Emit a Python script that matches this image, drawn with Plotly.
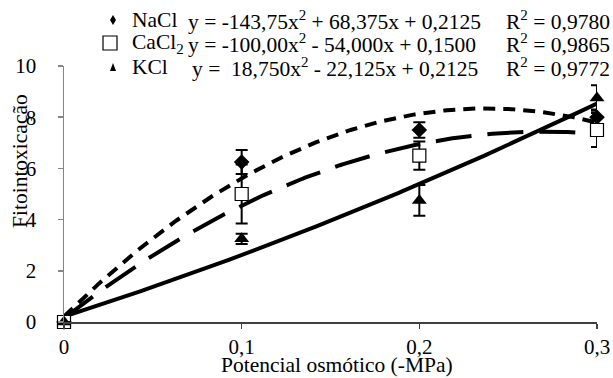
import numpy as np
import plotly.graph_objects as go

# ---- data ----
potencial = [0.0, 0.1, 0.2, 0.3]
x_ticks = [0, 0.1, 0.2, 0.3]
x_ticktext = ["0", "0,1", "0,2", "0,3"]
y_ticks = [0, 2, 4, 6, 8, 10]

nacl = [0.0, 6.25, 7.5, 8.0]
nacl_err = [0.0, 0.47, 0.3, 0.3]
cacl2 = [0.0, 5.0, 6.5, 7.5]
cacl2_err = [0.0, 1.15, 0.55, 0.66]
kcl = [0.0, 3.25, 4.75, 8.75]
kcl_err = [0.0, 0.2, 0.6, 0.5]

names = ["NaCl", "CaCl<sub>2</sub>", "KCl"]
equations = [
    "y = -143,75x<sup>2</sup> + 68,375x + 0,2125",
    "y = -100,00x<sup>2</sup> - 54,000x + 0,1500",
    "y =  18,750x<sup>2</sup> - 22,125x + 0,2125",
]
r2_labels = ["R<sup>2</sup> = 0,9780", "R<sup>2</sup> = 0,9865", "R<sup>2</sup> = 0,9772"]
x_title = "Potencial osmótico (-MPa)"
y_title = "Fitointoxicação"

FONT = "Liberation Serif, Times New Roman, serif"
fig = go.Figure()

xs = np.linspace(min(potencial), max(potencial), 200)
series = [
    (nacl, nacl_err, dict(symbol="diamond", size=12, color="black"), "12px,8px"),
    (cacl2, cacl2_err, dict(symbol="square", size=13, color="white",
                            line=dict(color="black", width=1.2)), "36px,16px"),
    (kcl, kcl_err, dict(symbol="triangle-up", size=13, color="black"), "solid"),
]

# trend lines (quadratic least squares fit of the data)
for vals, err, mk, dash in series:
    coef = np.polyfit(potencial, vals, 2)
    fig.add_trace(go.Scatter(x=xs, y=np.polyval(coef, xs), mode="lines",
                             line=dict(color="black", width=4, dash=dash),
                             showlegend=False, hoverinfo="skip"))

for vals, err, mk, dash in series:
    fig.add_trace(go.Scatter(x=potencial, y=vals, mode="markers", marker=mk,
                             error_y=dict(type="data", array=err, color="black",
                                          thickness=2, width=6),
                             cliponaxis=False, showlegend=False))

# ---- layout helpers ----
W, H = 613, 378
L, R, T, B = 64, 16, 66, 56
pw, ph = W - L - R, H - T - B


def px(x):
    return (x - L) / pw


def py(y):
    return (H - B - y) / ph


def txt(x, y, text, **kw):
    fig.add_annotation(x=px(x), y=py(y), xref="paper", yref="paper", text=text,
                       showarrow=False, yanchor="middle", borderpad=0,
                       font=dict(family=FONT, size=kw.pop("size", 21.5), color="black"), **kw)


rows_y = [20, 43, 67]
eq_x = [187, 187, 191]
for i, yy in enumerate(rows_y):
    txt(131, yy, names[i], xanchor="left")
    txt(eq_x[i], yy, equations[i], xanchor="left")
    txt(505, yy, r2_labels[i], xanchor="left")

# axis titles
txt(337, 365, x_title, xanchor="center", size=21.5)
txt(20, 161, y_title, xanchor="center", size=21.5, textangle=-90)

# legend keys
fig.add_shape(type="path", xref="paper", yref="paper", xsizemode="pixel", ysizemode="pixel",
              xanchor=px(113), yanchor=py(rows_y[0]),
              path="M 0,5 L 3,0 L 0,-5 L -3,0 Z", fillcolor="black", line=dict(width=0))
fig.add_shape(type="rect", xref="paper", yref="paper", xsizemode="pixel", ysizemode="pixel",
              xanchor=px(110), yanchor=py(rows_y[1]), x0=-7, x1=7, y0=-7, y1=7,
              fillcolor="white", line=dict(color="black", width=1.2))
fig.add_shape(type="path", xref="paper", yref="paper", xsizemode="pixel", ysizemode="pixel",
              xanchor=px(113), yanchor=py(rows_y[2]),
              path="M -3,-4 L 3,-4 L 0,4 Z", fillcolor="black", line=dict(width=0))

fig.update_layout(
    template="none",
    width=W, height=H,
    margin=dict(l=L, r=R, t=T, b=B, autoexpand=False),
    plot_bgcolor="white", paper_bgcolor="white",
    font=dict(family=FONT, size=21, color="black"),
    showlegend=False,
)
fig.update_xaxes(range=[0, 0.3], tickvals=x_ticks, ticktext=x_ticktext,
                 ticks="outside", ticklen=5, tickcolor="#404040", tickwidth=1.5,
                 showline=True, linecolor="#404040", linewidth=1.5,
                 showgrid=False, zeroline=False, automargin=False,
                 ticklabeloverflow="allow",
                 tickfont=dict(family=FONT, size=21, color="black"))
fig.update_yaxes(range=[0, 10], tickvals=y_ticks,
                 ticks="outside", ticklen=5, tickcolor="#868686", tickwidth=1.5,
                 showline=True, linecolor="#868686", linewidth=1.5,
                 showgrid=False, zeroline=False, automargin=False, ticklabelstandoff=17,
                 tickfont=dict(family=FONT, size=21, color="black"))

fig.write_html(
    "out.html",
    config={"displayModeBar": False, "staticPlot": True},
    post_script="document.body.style.margin='0';document.body.style.overflow='hidden';",
)
